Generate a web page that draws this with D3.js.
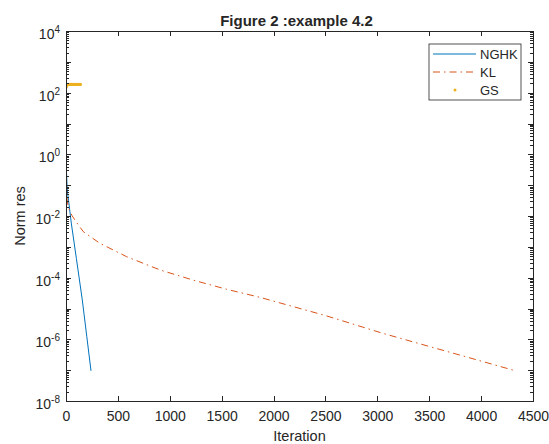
<!DOCTYPE html>
<html lang="en">
<head>
<meta charset="utf-8">
<script src="https://d3js.org/d3.v7.min.js"></script>
<title>Figure 2 :example 4.2</title>
<style>
  body { margin: 0; background: #fff; }
  svg text { font-family: "Liberation Sans", Arial, sans-serif; fill: #262626; }
  .axis path, .axis line { stroke: #262626; shape-rendering: crispEdges; }
</style>
</head>
<body>
<svg id="chart" width="549" height="444"></svg>
<script>
// ---- data ----
var nghkIter = [0, 2, 5, 12, 25, 51, 100, 157, 200, 241];
var nghkRes  = [22, 2.0, 0.25, 0.069, 0.031, 0.0059, 4.2e-4, 1.9e-5, 1.26e-6, 9.5e-8];

var klIter = [0, 3, 7, 20, 55, 100, 167, 328, 584, 906, 1227, 1548, 1869, 2500, 3057, 3700, 4310];
var klRes  = [0.45, 0.126, 0.045, 0.02, 0.0107, 0.0063, 0.0031, 1.29e-3, 4.8e-4, 1.78e-4,
              8.3e-5, 4.2e-5, 2.3e-5, 5.9e-6, 1.55e-6, 3.8e-7, 1.0e-7];

var gsIter = [1, 5, 10, 15, 20, 25, 30, 35, 40, 45, 50, 55, 60, 65, 70, 75, 80, 85, 90, 95,
              100, 105, 110, 115, 120, 125, 130, 135, 140];
var gsRes  = [150, 168, 178, 182, 185, 184, 186, 183, 185, 187, 184, 186, 185, 183, 186, 184, 185,
              187, 184, 185, 186, 183, 185, 184, 186, 185, 184, 186, 185];

var xTicks = [0, 500, 1000, 1500, 2000, 2500, 3000, 3500, 4000, 4500];
var yExpMajor = [4, 3, 2, 1, 0, -1, -2, -3, -4, -5, -6, -7, -8];
var yExpLabels = [4, 2, 0, -2, -4, -6, -8];

var seriesNames = ["NGHK", "KL", "GS"];
var colors = {NGHK: "#0072BD", KL: "#D95319", GS: "#EDB120"};

// ---- layout ----
var margin = {top: 31, right: 16, bottom: 43, left: 66};
var svg = d3.select("#chart");
var W = +svg.attr("width"), H = +svg.attr("height");
var width = W - margin.left - margin.right,
    height = H - margin.top - margin.bottom;

var x = d3.scaleLinear().domain([0, 4500]).range([margin.left, margin.left + width]);
var y = d3.scaleLog().domain([1e-8, 1e4]).range([margin.top + height, margin.top]);

var majorVals = yExpMajor.map(function(e) { return Math.pow(10, e); });
var minorVals = [];
for (var e = -8; e < 4; e++) {
  for (var m = 2; m <= 9; m++) minorVals.push(m * Math.pow(10, e));
}

svg.append("defs").append("clipPath").attr("id", "clip")
  .append("rect").attr("x", margin.left).attr("y", margin.top)
  .attr("width", width).attr("height", height);

// data
var plot = svg.append("g").attr("clip-path", "url(#clip)");

var line = d3.line()
  .x(function(d) { return x(d[0]); })
  .y(function(d) { return y(d[1]); });

plot.append("path")
  .datum(d3.zip(nghkIter, nghkRes))
  .attr("fill", "none")
  .attr("stroke", colors.NGHK)
  .attr("stroke-width", 1)
  .attr("d", line);

plot.append("path")
  .datum(d3.zip(klIter, klRes))
  .attr("fill", "none")
  .attr("stroke", colors.KL)
  .attr("stroke-width", 1)
  .attr("stroke-dasharray", "7,4,1.5,4")
  .attr("d", line);

plot.selectAll(".gs")
  .data(d3.zip(gsIter, gsRes))
  .enter().append("circle")
  .attr("class", "gs")
  .attr("cx", function(d) { return x(d[0]); })
  .attr("cy", function(d) { return y(d[1]); })
  .attr("r", 1.5)
  .attr("fill", colors.GS);

// axes (ticks inward, box on)
svg.append("g").attr("class", "axis")
  .attr("transform", "translate(0," + (margin.top + height) + ")")
  .call(d3.axisBottom(x).tickValues(xTicks).tickSizeInner(-5).tickSizeOuter(0).tickPadding(10)
        .tickFormat(d3.format("d")))
  .selectAll("text").style("font-size", "14px").attr("fill", "#262626");

svg.append("g").attr("class", "axis")
  .attr("transform", "translate(0," + margin.top + ")")
  .call(d3.axisTop(x).tickValues(xTicks).tickSizeInner(-5).tickSizeOuter(0).tickFormat(""));

svg.append("g").attr("class", "axis")
  .attr("transform", "translate(" + margin.left + ",0)")
  .call(d3.axisLeft(y).tickValues(majorVals).tickSizeInner(-5).tickSizeOuter(0).tickFormat(""));
svg.append("g").attr("class", "axis")
  .attr("transform", "translate(" + margin.left + ",0)")
  .call(d3.axisLeft(y).tickValues(minorVals).tickSizeInner(-3).tickSizeOuter(0).tickFormat(""))
  .select(".domain").remove();

svg.append("g").attr("class", "axis")
  .attr("transform", "translate(" + (margin.left + width) + ",0)")
  .call(d3.axisRight(y).tickValues(majorVals).tickSizeInner(-5).tickSizeOuter(0).tickFormat(""));
svg.append("g").attr("class", "axis")
  .attr("transform", "translate(" + (margin.left + width) + ",0)")
  .call(d3.axisRight(y).tickValues(minorVals).tickSizeInner(-3).tickSizeOuter(0).tickFormat(""))
  .select(".domain").remove();

// y tick labels 10^n
var ylab = svg.append("g").selectAll("text")
  .data(yExpLabels)
  .enter().append("text")
  .attr("x", margin.left - 6)
  .attr("y", function(d) { return y(Math.pow(10, d)) + 8; })
  .attr("text-anchor", "end")
  .style("font-size", "14px");
ylab.append("tspan").text("10");
ylab.append("tspan").attr("dy", -6).style("font-size", "10px").text(function(d) { return d; });

// titles
svg.append("text")
  .attr("x", margin.left + width / 2 - 3)
  .attr("y", 26)
  .attr("text-anchor", "middle")
  .style("font-size", "15px")
  .style("font-weight", "bold")
  .attr("fill", "#000")
  .text("Figure 2 :example 4.2");

svg.append("text")
  .attr("x", margin.left + width / 2)
  .attr("y", 441)
  .attr("text-anchor", "middle")
  .style("font-size", "14.5px")
  .text("Iteration");

svg.append("text")
  .attr("transform", "translate(25," + (margin.top + height / 2) + ") rotate(-90)")
  .attr("text-anchor", "middle")
  .style("font-size", "14.5px")
  .text("Norm res");

// legend
var lg = svg.append("g").attr("transform", "translate(429,44)");
lg.append("rect")
  .attr("width", 92).attr("height", 56)
  .attr("fill", "#fff").attr("stroke", "#262626").attr("stroke-width", 0.8);

var items = lg.selectAll(".item")
  .data(seriesNames)
  .enter().append("g")
  .attr("transform", function(d, i) { return "translate(0," + (10 + i * 18) + ")"; });

items.filter(function(d) { return d !== "GS"; })
  .append("line")
  .attr("x1", 4).attr("x2", 47)
  .attr("stroke", function(d) { return colors[d]; })
  .attr("stroke-width", 1)
  .attr("stroke-dasharray", function(d) { return d === "KL" ? "7,4,1.5,4" : null; });

items.filter(function(d) { return d === "GS"; })
  .append("circle")
  .attr("cx", 26).attr("r", 1.5)
  .attr("fill", colors.GS);

items.append("text")
  .attr("x", 51)
  .attr("dy", "0.35em")
  .style("font-size", "13px")
  .attr("fill", "#000")
  .text(function(d) { return d; });
</script>
</body>
</html>
